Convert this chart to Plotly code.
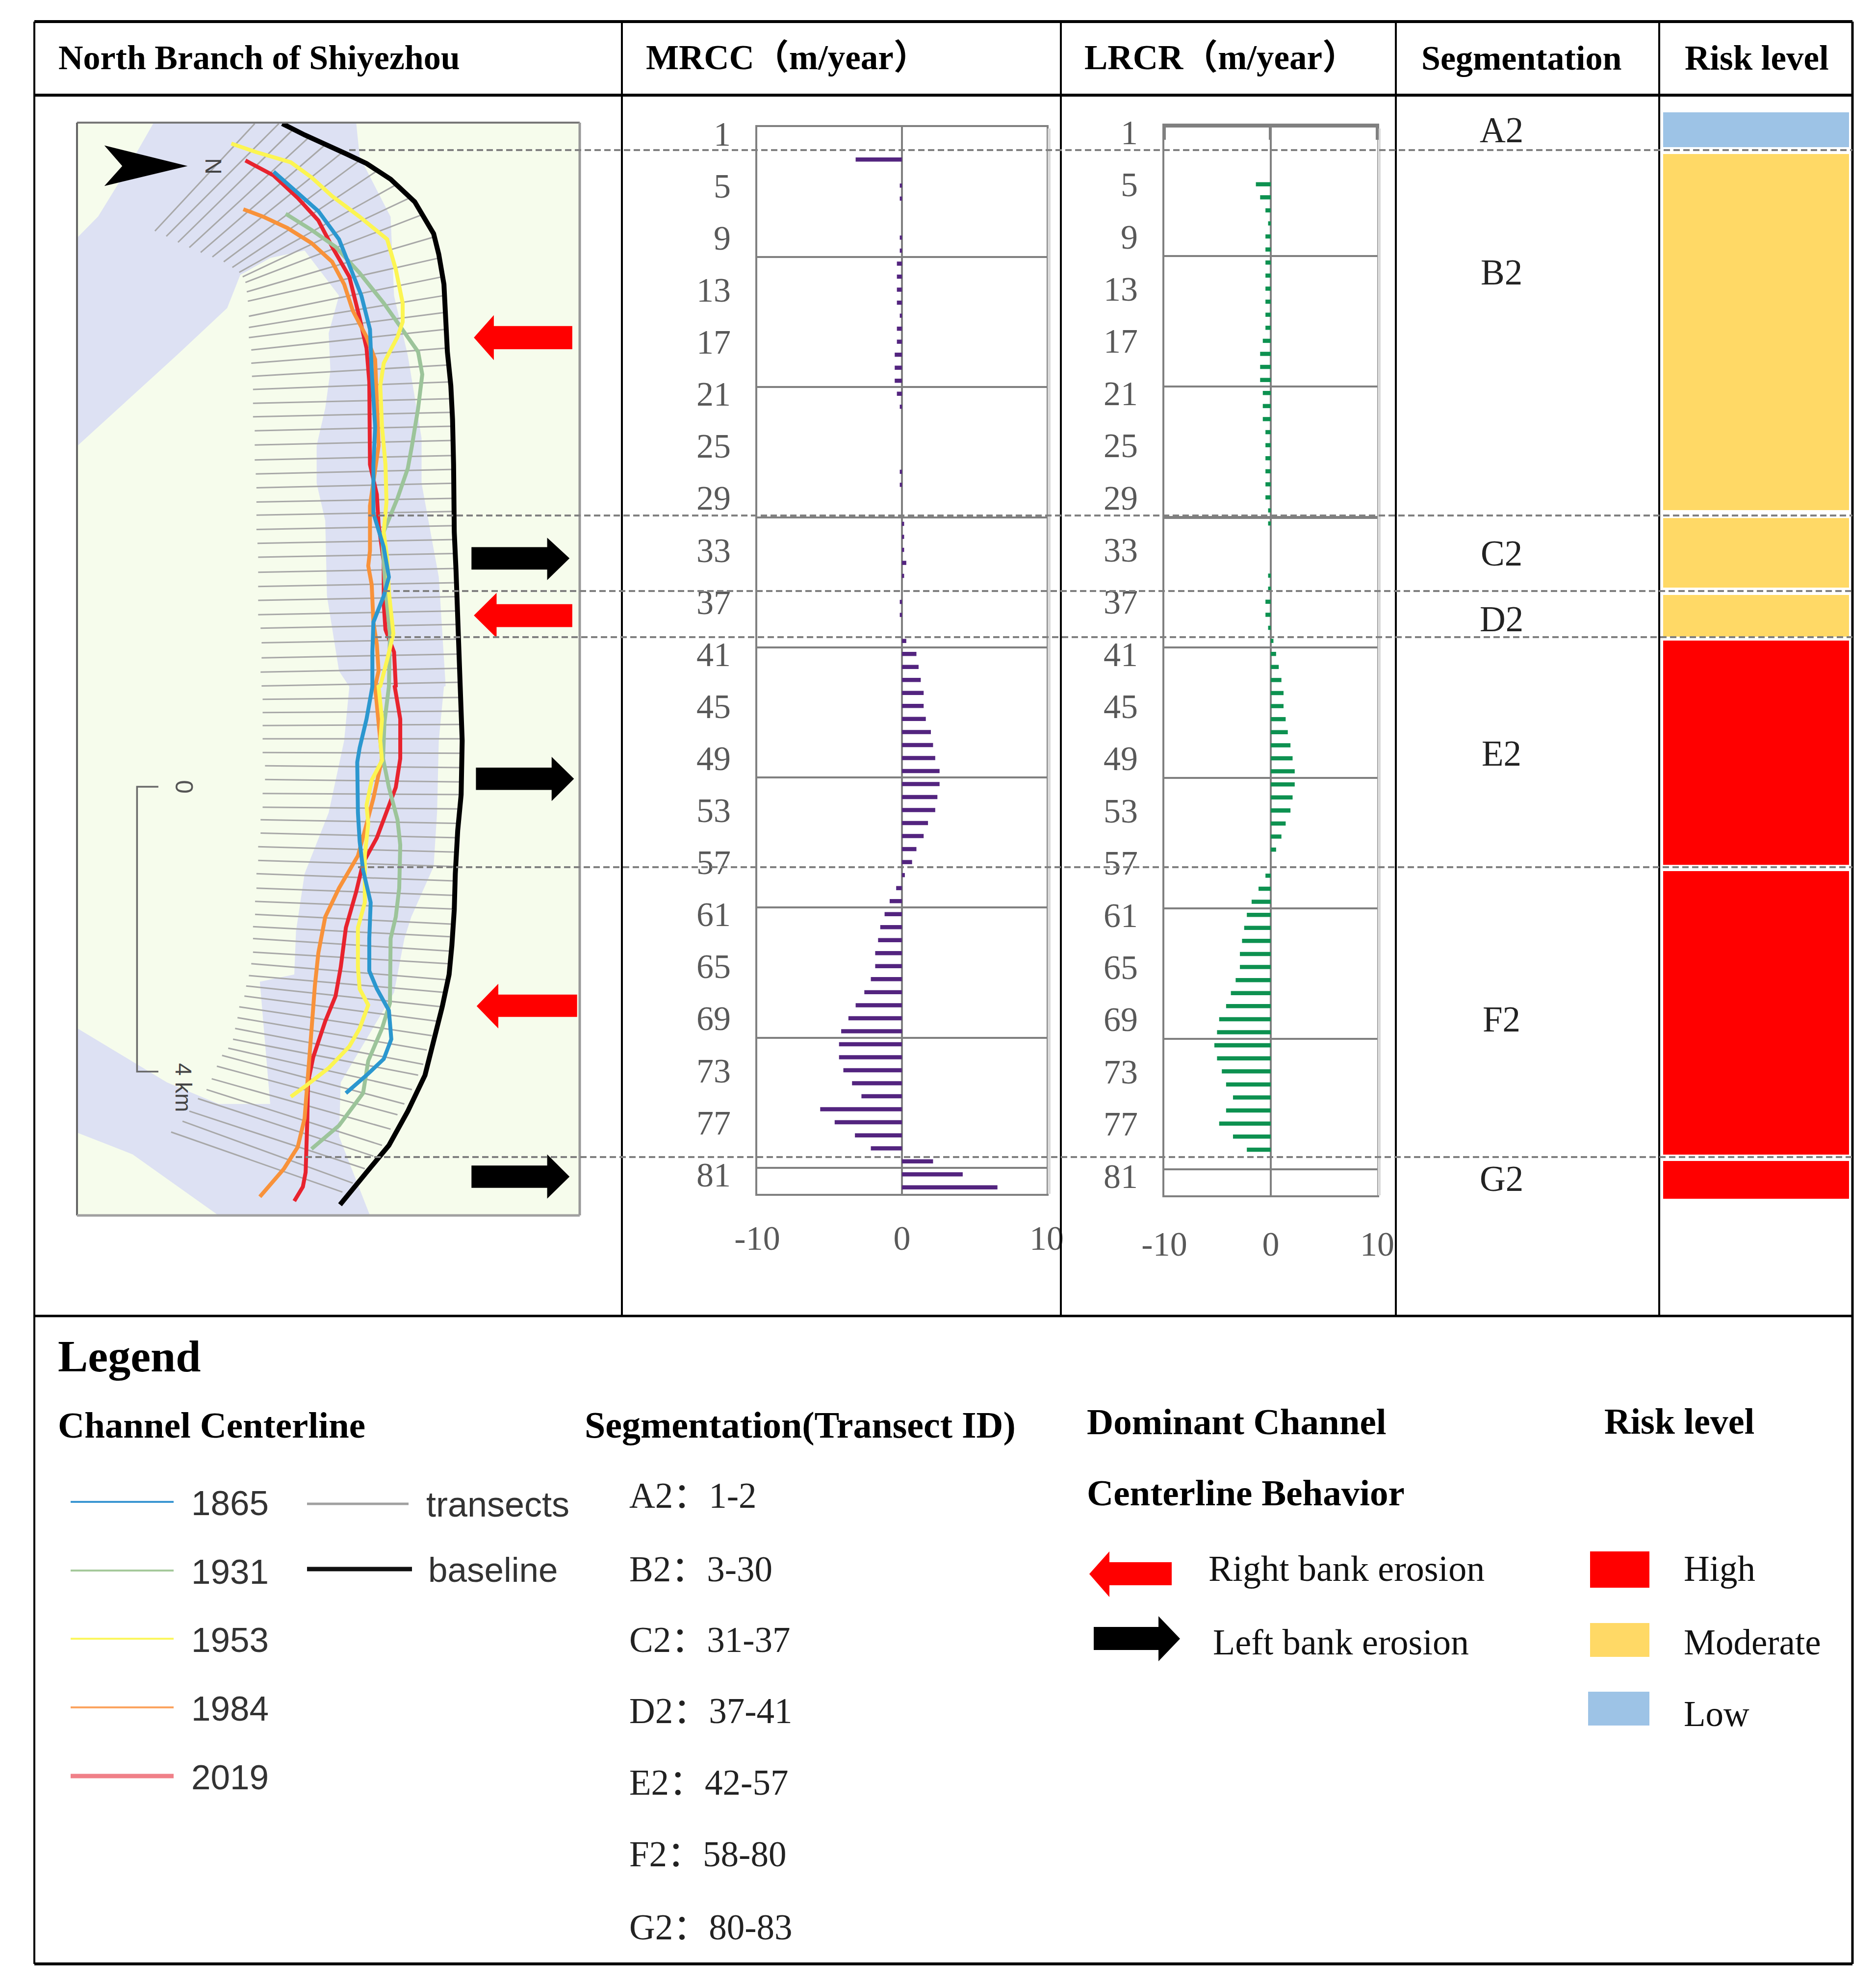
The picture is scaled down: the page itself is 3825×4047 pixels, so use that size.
import numpy as np
import plotly.graph_objects as go

W, H = 3825, 4047

# ---------- data ----------
TRANSECTS = list(range(1, 83))
MRCC = [0, 0, -3.2, 0, -.15, -.15, 0, 0, -.15, -.15, -.35, -.35, -.35, -.35, -.15, -.35, -.35, -.5, -.5, -.5,
        -.35, -.15, 0, 0, 0, 0, -.15, -.15, 0, 0, .15, .15, .15, .3, .15, 0, -.15, -.15, 0, .3,
        1.0, 1.15, 1.3, 1.5, 1.5, 1.65, 2.0, 2.15, 2.3, 2.6, 2.6, 2.45, 2.3, 1.8, 1.5, 1.0, .7, .2, -.4, -.85,
        -1.2, -1.5, -1.65, -1.85, -1.85, -2.15, -2.6, -3.2, -3.7, -4.2, -4.35, -4.35, -4.05, -3.45, -2.8, -5.65,
        -4.65, -3.25, -2.15, 2.15, 4.2, 6.6]
LRCR = [0, 0, 0, 0, -1.4, -1.0, -.5, -.25, -.5, -.5, -.5, -.5, -.5, -.5, -.5, -.5, -.75, -1.0, -1.0, -1.0,
        -.75, -.75, -.75, -.5, -.5, -.5, -.5, -.5, -.5, -.25, -.25, 0, 0, 0, -.25, -.25, -.5, -.5, -.25, .25,
        .5, .75, 1.0, 1.2, 1.2, 1.4, 1.6, 1.85, 2.05, 2.25, 2.25, 2.05, 1.85, 1.4, 1.0, .5, 0, -.5, -1.15, -1.8,
        -2.25, -2.5, -2.7, -2.9, -2.9, -3.3, -3.75, -4.2, -4.85, -5.05, -5.3, -5.05, -4.6, -4.2, -3.55, -4.2,
        -4.85, -3.55, -2.25, 0, 0, 0]
TICK_IDS = list(range(1, 82, 4))
GRID_IDS = [10.5, 20.5, 30.5, 40.5, 50.5, 60.5, 70.5, 80.5]
VALUE_TICKS = [-10, 0, 10]
VALUE_LABELS = ["-10", "0", "10"]

SEGMENTS = ["A2", "B2", "C2", "D2", "E2", "F2", "G2"]
SEG_IDS = ["1-2", "3-30", "31-37", "37-41", "42-57", "58-80", "80-83"]
SEG_RISK = ["Low", "Moderate", "Moderate", "Moderate", "High", "High", "High"]
SEG_START = [-0.63, 2.58, 30.55, 36.46, 39.97, 57.68, 79.96]
SEG_END = [2.05, 29.94, 35.9, 39.67, 57.2, 79.47, 82.86]
RISK_COLORS = {"High": "#ff0000", "Moderate": "#ffd966", "Low": "#9dc3e6"}

LINE_COLORS = {"1865": "#2b97cf", "1931": "#9cc49a", "1953": "#fcf552", "1984": "#f8923a", "2019": "#e8232e"}

BASE_U = [(635,42),(700,72),(820,122),(880,148),(950,190),(1020,250),(1075,335),(1090,390),(1105,470),(1110,560),
          (1115,650),(1125,740),(1130,830),(1133,950),(1135,1130),(1140,1230),(1147,1400),(1153,1540)]
BASE_L = [(1153,0),(1158,150),(1155,300),(1145,400),(1138,520),(1135,620),(1128,720),(1120,800),(1100,890),
          (1075,980),(1050,1080),(1000,1180),(945,1275),(880,1350),(803,1440)]
L1953_U = [(487,95),(560,118),(660,145),(720,185),(780,235),(860,290),(940,350),(965,430),(985,520),(985,570),
           (970,610),(930,680),(920,740),(925,850),(935,950),(938,1050),(930,1130),(940,1200),(945,1290),
           (958,1400),(940,1470),(920,1540)]
L1953_L = [(915,0),(925,90),(920,150),(925,205),(895,260),(880,330),(885,380),(875,470),(875,600),(855,670),
           (855,780),(860,840),(885,885),(860,950),(830,1000),(770,1060),(710,1105),(660,1140)]
L1865_U = [(610,170),(680,225),(740,275),(800,350),(830,420),(865,500),(890,590),(895,700),(905,850),(900,950),
           (900,1080),(930,1170),(945,1250),(930,1300),(900,1370),(897,1450),(897,1540)]
L1865_L = [(897,0),(880,90),(860,170),(853,210),(855,350),(860,430),(870,510),(892,600),(888,700),(888,790),
           (910,840),(945,900),(952,980),(930,1035),(880,1080),(820,1130)]
L2019_U = [(528,140),(610,180),(680,240),(740,300),(780,370),(830,450),(860,560),(880,640),(888,730),(888,790),
           (890,950),(910,1030),(915,1110),(930,1210),(930,1320),(935,1390),(960,1450),(965,1540)]
L2019_L = [(962,0),(978,90),(978,200),(965,280),(945,330),(910,420),(870,490),(850,570),(820,670),(805,780),
           (790,860),(760,930),(725,1030),(710,1100),(708,1200),(703,1350),(695,1390),(670,1430)]
L1984_U = [(522,270),(580,290),(650,320),(720,360),(780,410),(815,470),(840,540),(880,610),(905,670),(910,830),
           (915,900),(890,1060),(890,1180),(885,1220),(895,1270),(900,1370),(910,1430),(915,1500),(908,1540)]
L1984_L = [(905,0),(925,200),(900,310),(875,400),(855,470),(800,560),(760,640),(740,740),(730,830),(718,980),
           (708,1100),(700,1200),(680,1280),(640,1340),(570,1418)]
L1931_U = [(645,282),(720,325),(790,370),(860,440),(930,520),(985,590),(1030,650),(1042,710),(1030,800),(1012,900),
           (1000,960),(970,1040),(925,1140),(935,1280),(948,1400),(945,1540)]
L1931_L = [(945,0),(932,100),(928,200),(945,280),(970,370),(978,440),(975,560),(965,640),(950,700),(948,880),
           (925,950),(885,1040),(870,1130),(800,1220),(720,1285)]
TR_LEFT_U = [(265,328),(298,342),(332,358),(365,372),(398,385),(432,397),(465,410),(490,425),(510,438),(520,450),
             (528,465),(532,490),(535,515),(538,555),(538,585),(538,612),(545,645),(545,680),(547,715),(550,750),
             (550,787),(550,823),(555,860),(555,898),(555,938),(558,975),(560,1012),(560,1050),(560,1085),(560,1123),
             (563,1160),(565,1197),(565,1237),(565,1275),(565,1312),(565,1350),(572,1386),(575,1425),(575,1465),
             (572,1503),(575,1540)]
TR_RIGHT_U = [(555,42),(625,42),(666,58),(713,78),(760,98),(810,118),(860,140),(915,165),(965,205),(1005,240),
              (1040,285),(1072,345),(1090,400),(1100,450),(1105,500),(1108,545),(1110,590),(1112,640),(1115,685),
              (1118,730),(1120,775),(1124,811),(1128,848),(1130,886),(1132,926),(1133,963),(1134,1000),(1134,1040),
              (1135,1075),(1135,1113),(1137,1150),(1138,1187),(1140,1227),(1141,1265),(1142,1302),(1144,1340),
              (1146,1376),(1148,1415),(1150,1455),(1151,1493),(1152,1530)]
TR_LEFT_L = [(578,35),(578,72),(578,108),(578,145),(578,183),(585,220),(585,258),(578,297),(578,335),(572,370),
             (572,407),(565,445),(565,483),(560,520),(560,560),(556,597),(556,633),(550,667),(550,700),(550,738),
             (545,770),(538,803),(530,832),(525,860),(510,890),(505,920),(498,950),(492,980),(478,1005),(460,1025),
             (445,1055),(430,1090),(415,1120),(390,1145),(365,1180),(345,1208),(312,1238)]
TR_RIGHT_L = [(1155,30),(1155,68),(1155,105),(1160,145),(1160,185),(1160,225),(1160,265),(1158,300),(1155,340),
              (1150,380),(1145,420),(1140,460),(1140,500),(1135,540),(1135,580),(1130,618),(1125,660),(1122,695),
              (1120,735),(1118,770),(1116,815),(1110,850),(1100,890),(1085,930),(1070,970),(1055,1010),(1045,1050),
              (1030,1080),(1012,1120),(990,1160),(970,1190),(950,1230),(925,1275),(900,1305),(875,1340),(840,1380),
              (810,1405)]
WATER_U1 = [(40,345),(100,289),(180,170),(261,40),(850,40),(860,130),(950,290),(960,500),(1000,660),
            (1040,880),(1040,1000),(1090,1250),(1110,1540)]
WATER_L1 = [(1105,0),(1090,150),(1085,350),(1075,500),(1010,640),(990,700),(960,850),(805,1100),(800,1250),(890,1470),
            (450,1470),(200,1300),(40,1240),(40,950),(300,1100),(450,1160),(600,1160),(570,820),(670,800),(675,680),
            (700,520),(770,350),(815,150),(830,0)]
WATER_U2 = [(800,1500),(765,1300),(760,1100),(735,1000),(735,900),(760,800),(775,700),(770,600),(800,500),(700,380),
            (600,400),(513,445),(475,533),(332,656),(40,900)]
ARROW_RED = [[(1192,612),(1250,552),(1250,581),(1478,581),(1478,643),(1250,643),(1250,672)],
             [(1192,1352),(1258,1292),(1258,1322),(1478,1322),(1478,1383),(1258,1383),(1258,1412)]]
ARROW_RED_L = [[(1200,888),(1263,826),(1263,856),(1492,856),(1492,918),(1263,918),(1263,950)]]
ARROW_BLACK = [[(1470,1200),(1405,1145),(1405,1170),(1185,1170),(1185,1230),(1405,1230),(1405,1258)]]
ARROW_BLACK_L = [[(1483,256),(1418,195),(1418,225),(1198,225),(1198,287),(1418,287),(1418,318)],
                 [(1470,1362),(1405,1300),(1405,1331),(1185,1331),(1185,1393),(1405,1393),(1405,1423)]]
NORTH = [(118,100),(360,155),(118,208),(170,155)]
SCALE_BAR = [(275,278),(213,278),(213,1070),(275,1070)]


def up(pts):
    return [(130 + a / 1.4255, 220 + b / 1.3067) for a, b in pts]


def lo(pts):
    return [(130 + a / 1.4255, 1400 + b / 1.3635) for a, b in pts]


def xy(pts):
    return [p[0] for p in pts], [p[1] for p in pts]


# ---------- layout helpers ----------
SERIF = "Liberation Serif, Noto Sans CJK SC, serif"
SANS = "Liberation Sans, Arial, sans-serif"
GRAY = "#808080"


def px(x):
    return x / W


def py(y):
    return 1 - y / H


def dom_x(a, b):
    return [px(a), px(b)]


def dom_y(top, bottom):
    return [py(bottom), py(top)]


shapes, notes = [], []


def line(x0, y0, x1, y1, color="black", width=5, dash=None):
    shapes.append(dict(type="line", xref="paper", yref="paper", x0=px(x0), y0=py(y0), x1=px(x1), y1=py(y1),
                       line=dict(color=color, width=width, dash=dash), layer="above"))


def rect(x0, y0, x1, y1, color):
    shapes.append(dict(type="rect", xref="paper", yref="paper", x0=px(x0), y0=py(y0), x1=px(x1), y1=py(y1),
                       fillcolor=color, line=dict(width=0), layer="above"))


def polygon(pts, color):
    path = "M" + " L".join(f"{px(a):.5f},{py(b):.5f}" for a, b in pts) + " Z"
    shapes.append(dict(type="path", xref="paper", yref="paper", path=path, fillcolor=color,
                       line=dict(width=0), layer="above"))


def text(x, y, s, size, anchor="left", family=SERIF, color="#000000", bold=False, angle=0):
    notes.append(dict(xref="paper", yref="paper", x=px(x), y=py(y), text=f"<b>{s}</b>" if bold else s,
                      showarrow=False, xanchor=anchor, yanchor="middle", textangle=angle, borderpad=0,
                      font=dict(family=family, size=size, color=color)))


fig = go.Figure()

# ---------- bar panels ----------
fig.add_trace(go.Bar(y=TRANSECTS, x=MRCC, orientation="h", width=0.32, marker=dict(color="#53247f", line=dict(width=0)),
                     xaxis="x", yaxis="y", name="MRCC"))
fig.add_trace(go.Bar(y=TRANSECTS, x=LRCR, orientation="h", width=0.32, marker=dict(color="#0d9150", line=dict(width=0)),
                     xaxis="x2", yaxis="y2", name="LRCR"))

# ---------- risk column ----------
R_TOP, R_BOT = 200, 2460
T_PER_PX = 1 / 26.53
fig.add_trace(go.Bar(x=[0] * len(SEGMENTS), y=[e - s for s, e in zip(SEG_START, SEG_END)], base=SEG_START, width=1,
                     marker=dict(color=[RISK_COLORS[r] for r in SEG_RISK], line=dict(width=0)),
                     xaxis="x3", yaxis="y3", name="Risk level"))

# ---------- map ----------
MAP_L, MAP_R, MAP_T, MAP_B = 157, 1182, 250, 2478
mp = dict(xaxis="x4", yaxis="y4", hoverinfo="skip")
fig.add_trace(go.Scatter(x=[MAP_L, MAP_R, MAP_R, MAP_L], y=[MAP_T, MAP_T, MAP_B, MAP_B], fill="toself", mode="none",
                         fillcolor="#f6fcec", **mp))
wx, wy = xy(up(WATER_U1) + lo(WATER_L1) + up(WATER_U2))
fig.add_trace(go.Scatter(x=wx, y=wy, fill="toself", mode="none", fillcolor="#dde1f3", **mp))

tx, ty = [], []
for a, b in list(zip(up(TR_LEFT_U), up(TR_RIGHT_U))) + list(zip(lo(TR_LEFT_L), lo(TR_RIGHT_L))):
    tx += [a[0], b[0], None]
    ty += [a[1], b[1], None]
fig.add_trace(go.Scatter(x=tx, y=ty, mode="lines", line=dict(color="#a8a8a8", width=3), **mp))

for year, u, l in [("2019", L2019_U, L2019_L), ("1984", L1984_U, L1984_L), ("1931", L1931_U, L1931_L),
                   ("1953", L1953_U, L1953_L), ("1865", L1865_U, L1865_L)]:
    x_, y_ = xy(up(u) + lo(l))
    fig.add_trace(go.Scatter(x=x_, y=y_, mode="lines", line=dict(color=LINE_COLORS[year], width=8), name=year, **mp))
x_, y_ = xy(up(BASE_U) + lo(BASE_L))
fig.add_trace(go.Scatter(x=x_, y=y_, mode="lines", line=dict(color="#000000", width=10), name="baseline", **mp))

for arrows, conv, color in [(ARROW_RED, up, "#ff0000"), (ARROW_RED_L, lo, "#ff0000"),
                            (ARROW_BLACK, up, "#000000"), (ARROW_BLACK_L, lo, "#000000")]:
    for a in arrows:
        x_, y_ = xy(conv(a))
        fig.add_trace(go.Scatter(x=x_, y=y_, fill="toself", mode="none", fillcolor=color, **mp))
x_, y_ = xy(up(NORTH))
fig.add_trace(go.Scatter(x=x_, y=y_, fill="toself", mode="none", fillcolor="#000000", **mp))
x_, y_ = xy(lo(SCALE_BAR))
fig.add_trace(go.Scatter(x=x_, y=y_, mode="lines", line=dict(color="#6a6a6a", width=3.5), **mp))

line(MAP_L, MAP_T, MAP_R, MAP_T, "#777777", 4)
line(MAP_L, MAP_T, MAP_L, MAP_B, "#666666", 4)
line(MAP_R, MAP_T, MAP_R, MAP_B, "#999999", 5)
line(MAP_L, MAP_B, MAP_R, MAP_B, "#a0a0a0", 5)
nx, ny = up([(435, 155)])[0]
text(nx, ny, "N", 46, "center", SANS, "#444444", angle=90)
zx, zy = lo([(350, 278)])[0]
text(zx, zy, "0", 50, "center", SANS, "#555555", angle=90)
zx, zy = lo([(348, 1115)])[0]
text(zx, zy, "4 km", 46, "center", SANS, "#444444", angle=90)

# ---------- chart box details ----------
line(2139, 262, 2139, 2434, "#d9d9d9", 6)
line(2812, 262, 2812, 2437, "#d9d9d9", 6)
line(2372, 256, 2810, 256, GRAY, 8)
line(2374, 256, 2374, 285, GRAY, 6)
line(2590, 256, 2590, 285, GRAY, 6)
line(2808, 256, 2808, 285, GRAY, 6)
line(2374, 1055, 2808, 1055, GRAY, 6)

# ---------- table ----------
T_L, T_R, T_T, T_HD, T_MID, T_B = 70, 3777, 44, 194, 2683, 4004
COLS = [1268, 2163, 2846, 3383]
for y_, w_ in [(T_T, 6), (T_HD, 6), (T_MID, 5), (T_B, 6)]:
    line(T_L, y_, T_R, y_, "black", w_)
line(T_L, T_T, T_L, T_B, "black", 4)
line(T_R, T_T, T_R, T_B, "black", 5)
for c in COLS:
    line(c, T_T, c, T_MID, "black", 4)

text(118, 117, "North Branch of Shiyezhou", 70, bold=True)
text(1316, 117, "MRCC（m/year）", 71, bold=True)
text(2210, 117, "LRCR（m/year）", 71, bold=True)
text(2897, 118, "Segmentation", 70, bold=True)
text(3434, 118, "Risk level", 71, bold=True)

for s, y_ in zip(SEGMENTS, [265, 556, 1128, 1262, 1536, 2078, 2403]):
    text(3061, y_, s, 73, "center", color="#222222")

# dashed section lines
for x0, y_ in [(712, 306), (751, 1051), (782, 1205), (765, 1299), (730, 1768), (603, 2359)]:
    line(x0, y_, T_R, y_, GRAY, 4, "13px,7px")

# ---------- legend ----------
text(117, 2765, "Legend", 92, bold=True)
text(117, 2905, "Channel Centerline", 75, bold=True)
text(1191, 2905, "Segmentation(Transect ID)", 76, bold=True)
LEG_Y = [3062, 3202, 3341, 3481, 3621]
LEG_W = [4, 4, 4, 4, 9]
LEG_C = ["#3a96d2", "#a5c99b", "#fbf75f", "#fba35f", "#f08088"]
for year, y_, w_, c_ in zip(LINE_COLORS, LEG_Y, LEG_W, LEG_C):
    line(144, y_, 354, y_, c_, w_)
    text(389, y_ + 2, year, 71, family=SANS, color="#333333")
line(626, 3066, 833, 3066, "#a0a0a0", 5)
text(868, 3067, "transects", 72, family=SANS, color="#333333")
line(626, 3199, 840, 3199, "#111111", 9)
text(872, 3200, "baseline", 71, family=SANS, color="#333333")
for s, ids, y_ in zip(SEGMENTS, SEG_IDS, [3049, 3199, 3343, 3488, 3634, 3780, 3929]):
    text(1282, y_, f"{s}：{ids}", 73, color="#222222")

text(2215, 2898, "Dominant Channel", 75, bold=True)
text(2215, 3043, "Centerline Behavior", 75, bold=True)
text(3270, 2898, "Risk level", 74, bold=True)
polygon([(2221, 3209), (2262, 3163), (2262, 3185), (2389, 3185), (2389, 3232), (2262, 3232), (2262, 3256)], "#ff0000")
polygon([(2406, 3341), (2362, 3295), (2362, 3317), (2230, 3317), (2230, 3364), (2362, 3364), (2362, 3387)], "#000000")
text(2463, 3198, "Right bank erosion", 74, color="#111111")
text(2472, 3348, "Left bank erosion", 74, color="#111111")
rect(3242, 3163, 3363, 3237, RISK_COLORS["High"])
rect(3242, 3309, 3363, 3378, RISK_COLORS["Moderate"])
rect(3238, 3449, 3363, 3518, RISK_COLORS["Low"])
text(3432, 3198, "High", 73, color="#111111")
text(3432, 3348, "Moderate", 73, color="#111111")
text(3432, 3494, "Low", 73, color="#111111")

# ---------- axes ----------
tickfont = dict(family=SERIF, size=70, color="#595959")


def value_axis(dom, anchor, standoff):
    return dict(domain=dom, anchor=anchor, range=[-10, 10], tickmode="array", tickvals=VALUE_TICKS,
                ticktext=VALUE_LABELS, showgrid=False, zeroline=True, zerolinecolor=GRAY, zerolinewidth=4,
                showline=True, mirror=True, linecolor=GRAY, linewidth=4, ticks="", tickfont=tickfont,
                ticklabelstandoff=standoff, automargin=False)


def id_axis(dom, anchor):
    return dict(domain=dom, anchor=anchor, range=[82.5, 0.5], tickmode="array", tickvals=TICK_IDS,
                showgrid=False, zeroline=False, showline=True, mirror=True, linecolor=GRAY, linewidth=4,
                ticks="", tickfont=tickfont, ticklabelstandoff=36, automargin=False,
                minor=dict(tickmode="array", tickvals=GRID_IDS, showgrid=True, gridcolor=GRAY, gridwidth=3.5, ticks=""))


def hidden(dom, anchor, rng):
    return dict(domain=dom, anchor=anchor, range=rng, visible=False, automargin=False)


r_low = 0.5 + (R_BOT - 258.9) * T_PER_PX
r_high = 0.5 + (R_TOP - 258.9) * T_PER_PX

fig.update_layout(
    width=W, height=H, margin=dict(l=0, r=0, t=0, b=0, pad=0), autosize=False,
    paper_bgcolor="white", plot_bgcolor="rgba(0,0,0,0)", showlegend=False, barmode="overlay",
    font=dict(family=SERIF), shapes=shapes, annotations=notes,
    xaxis=value_axis(dom_x(1544, 2134), "y", 26),
    yaxis=id_axis(dom_y(259, 2434), "x"),
    xaxis2=value_axis(dom_x(2374, 2808), "y2", 35),
    yaxis2=id_axis(dom_y(256, 2437), "x2"),
    xaxis3=hidden(dom_x(3391, 3770), "y3", [-0.5, 0.5]),
    yaxis3=hidden(dom_y(R_TOP, R_BOT), "x3", [r_low, r_high]),
    xaxis4=hidden(dom_x(MAP_L, MAP_R), "y4", [MAP_L, MAP_R]),
    yaxis4=hidden(dom_y(MAP_T, MAP_B), "x4", [MAP_B, MAP_T]),
)

fig.write_html("out.html", config={"displayModeBar": False},
               post_script="document.body.style.margin='0';document.documentElement.style.overflow='hidden';")
